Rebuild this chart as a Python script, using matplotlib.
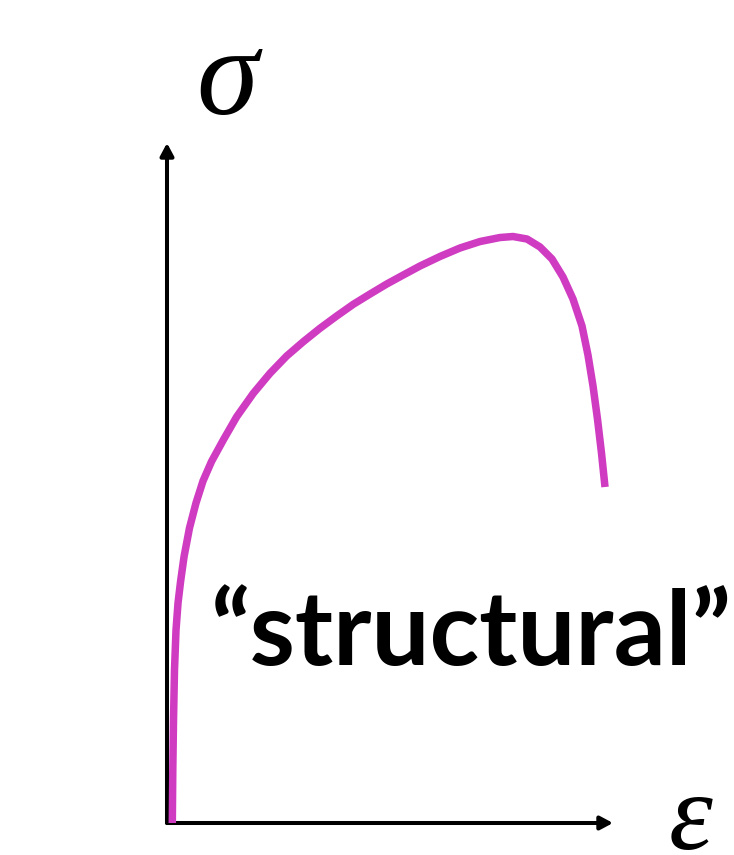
import matplotlib
matplotlib.use("Agg")
import matplotlib.pyplot as plt

# Stress-strain curve for a "structural" material (arbitrary units)
strain = [0.0119, 0.0130, 0.0146, 0.0168, 0.0202, 0.0247, 0.0303, 0.0381, 0.0504,
          0.0650, 0.0807, 0.0998, 0.1262, 0.1563, 0.1935, 0.2309, 0.2684, 0.3056,
          0.3430, 0.3805, 0.4177, 0.4552, 0.4926, 0.5298, 0.5673, 0.6121, 0.6570,
          0.7018, 0.7466, 0.7758, 0.8072, 0.8363, 0.8632, 0.8879, 0.9103, 0.9305,
          0.9439, 0.9552, 0.9652, 0.9742, 0.9821]
stress = [0.0, 0.0779, 0.1515, 0.2250, 0.2838, 0.3235, 0.3544, 0.3912, 0.4338,
          0.4706, 0.5029, 0.5316, 0.5632, 0.5975, 0.6319, 0.6613, 0.6868, 0.7078,
          0.7275, 0.7456, 0.7628, 0.7779, 0.7926, 0.8059, 0.8191, 0.8331, 0.8456,
          0.8551, 0.8610, 0.8625, 0.8588, 0.8471, 0.8294, 0.8029, 0.7706, 0.7309,
          0.6882, 0.6426, 0.5941, 0.5441, 0.4941]

label = "\u201cstructural\u201d"
curve_color = "#CF3CC1"

fig = plt.figure(figsize=(7.34, 8.55), dpi=100)
ax = fig.add_axes([167 / 734, 32 / 855, 446 / 734, 680 / 855])
ax.set_xlim(0, 1)
ax.set_ylim(0, 1)
ax.axis("off")

# axes drawn as arrows
arrow = dict(arrowstyle="-|>,head_length=0.75,head_width=0.4", color="black",
             lw=2.9, shrinkA=0, shrinkB=0)
ax.annotate("", xy=(1, 0), xytext=(0, 0), xycoords="axes fraction",
            arrowprops=arrow, annotation_clip=False)
ax.annotate("", xy=(0, 1), xytext=(0, 0), xycoords="axes fraction",
            arrowprops=arrow, annotation_clip=False)

ax.plot(strain, stress, color=curve_color, lw=5.4, solid_capstyle="butt",
        solid_joinstyle="round", clip_on=False, zorder=3)

# axis symbols
fig.text(227 / 734, 1 - 84 / 855, "\u03c3", family="Liberation Serif", style="italic",
         fontsize=90, ha="center", va="center")
fig.text(690 / 734, 1 - 822 / 855, "\u03b5", family="Liberation Serif", style="italic",
         fontsize=80, ha="center", va="center")

fig.text(210 / 734, 1 - 665 / 855, label, family="Lato", weight="bold",
         fontsize=74, ha="left", va="baseline")

plt.savefig("out.png", dpi=100)
